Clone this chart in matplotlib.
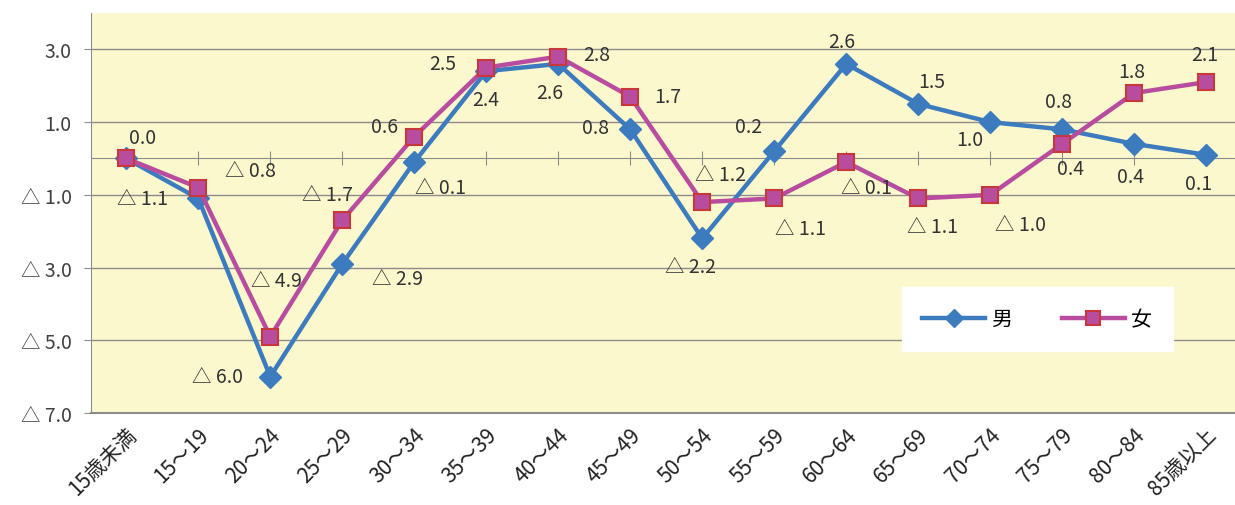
import matplotlib.pyplot as plt
import numpy as np

plt.rcParams['font.family'] = ['Noto Sans CJK JP', 'DejaVu Sans']

# 年齢階級
kaikyu = ['15歳未満', '15～19', '20～24', '25～29', '30～34', '35～39', '40～44', '45～49',
          '50～54', '55～59', '60～64', '65～69', '70～74', '75～79', '80～84', '85歳以上']
otoko = [0.0, -1.1, -6.0, -2.9, -0.1, 2.4, 2.6, 0.8, -2.2, 0.2, 2.6, 1.5, 1.0, 0.8, 0.4, 0.1]
onna = [0.0, -0.8, -4.9, -1.7, 0.6, 2.5, 2.8, 1.7, -1.2, -1.1, -0.1, -1.1, -1.0, 0.4, 1.8, 2.1]
yticks = [3, 1, -1, -3, -5, -7]

# ラベルの位置ずらし (pixel)
off_m = [(16, 21), (-56, 0), (-53, 0), (55, -15), (26, -25), (-1, -28), (-8, -29), (-35, 2),
         (-12, -28), (-26, 25), (-4, 22), (14, 22), (-20, -17), (-4, 28), (-4, -33), (-8, -29)]
off_f = [None, (52, 17), (6, 56), (-15, 26), (-30, 10), (-44, 4), (38, 2), (38, 0),
         (18, 28), (26, -30), (20, -25), (14, -28), (30, -30), (8, -25), (-2, 22), (-1, 28)]


def fmt(v):
    if v < 0:
        return '△ ' + f'{abs(v):.1f}'
    return f'{v:.1f}'


fig = plt.figure(figsize=(12.35, 5.06), dpi=100)
ax = fig.add_axes([91 / 1235, 92 / 506, 1144 / 1235, 400 / 506])
ax.set_facecolor('#FCF8CE')

x = np.arange(len(kaikyu))
blue = '#3D7BBF'
pink = '#B84DA0'

ax.plot(x, otoko, color=blue, lw=3.2, marker='D', ms=11, mfc=blue, mec=blue, label='男', zorder=3)
ax.plot(x, onna, color=pink, lw=3.2, marker='s', ms=12, mfc=pink, mec='#C8383A', mew=1.5,
        label='女', zorder=4)

for i in range(len(x)):
    ax.annotate(fmt(otoko[i]), (x[i], otoko[i]), xytext=off_m[i], textcoords='offset pixels',
                ha='center', va='center', fontsize=14, color='#333333', zorder=5)
    if off_f[i] is not None:
        ax.annotate(fmt(onna[i]), (x[i], onna[i]), xytext=off_f[i], textcoords='offset pixels',
                    ha='center', va='center', fontsize=14, color='#333333', zorder=5)

ax.set_xlim(-0.49, 15.4)
ax.set_ylim(-7, 4)

ax.set_yticks(yticks)
ax.set_yticklabels([fmt(v) for v in yticks], fontsize=14, color='#404040')
ax.grid(axis='y', color='#8C8C8C', lw=1)
ax.set_axisbelow(True)
ax.tick_params(axis='y', length=5, color='#8C8C8C', pad=9)

# 横軸は0の位置
ax.spines['bottom'].set_position(('data', 0))
ax.spines['bottom'].set_color('#8C8C8C')
ax.spines['left'].set_color('#8C8C8C')
ax.spines['top'].set_visible(False)
ax.spines['right'].set_visible(False)
ax.set_xticks(x[1:])
ax.tick_params(axis='x', direction='inout', length=10, color='#8C8C8C', labelbottom=False)
ax.axhline(-7, color='#8C8C8C', lw=1.5, clip_on=False)

for i, k in enumerate(kaikyu):
    ax.text(x[i] + 0.1, -0.045, k, transform=ax.get_xaxis_transform(), rotation=45,
            ha='right', va='center', rotation_mode='anchor', fontsize=15, color='#222222')

leg = ax.legend(loc='center', bbox_to_anchor=(0.827, 0.235), ncol=2, fontsize=15,
                frameon=True, fancybox=False, borderpad=1.0, handlelength=3.0,
                columnspacing=2.4, handletextpad=0.3, markerscale=0.8)
leg.get_frame().set_facecolor('white')
leg.get_frame().set_edgecolor('white')
leg.get_frame().set_alpha(1)

fig.savefig('out.png', dpi=100)
